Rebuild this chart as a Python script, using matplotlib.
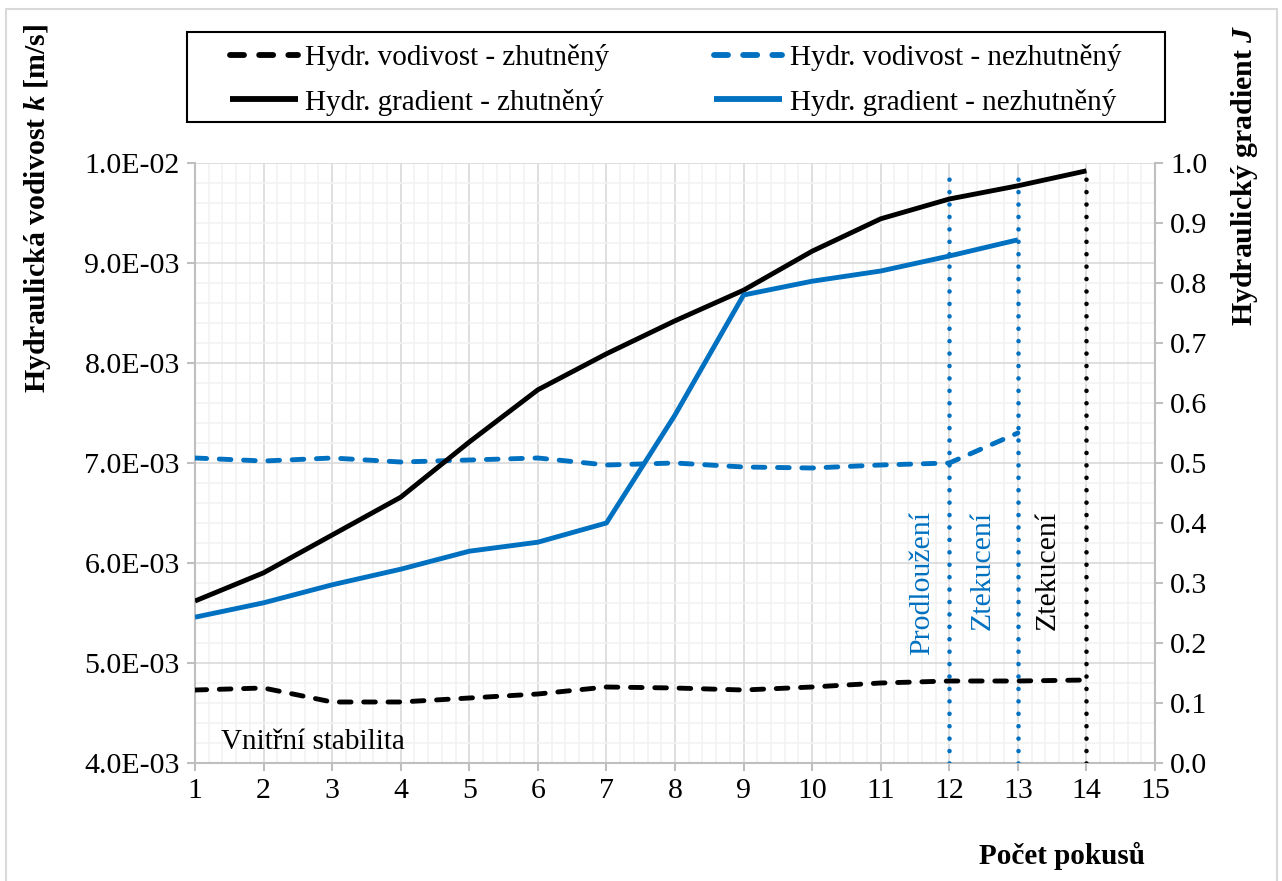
import matplotlib
matplotlib.use("Agg")
import matplotlib.pyplot as plt
from matplotlib.patches import Rectangle
from matplotlib.ticker import MultipleLocator, FuncFormatter

plt.rcParams['font.family'] = ['Liberation Serif', 'DejaVu Serif']
plt.rcParams['mathtext.fontset'] = 'custom'
plt.rcParams['mathtext.it'] = 'Liberation Serif:italic:bold'
plt.rcParams['mathtext.bf'] = 'Liberation Serif:bold'
plt.rcParams['mathtext.rm'] = 'Liberation Serif:bold'

# ---- data ----
tests = list(range(1, 15))
k_zhut = [4.73e-3, 4.75e-3, 4.61e-3, 4.61e-3, 4.65e-3, 4.69e-3, 4.76e-3,
          4.75e-3, 4.73e-3, 4.76e-3, 4.80e-3, 4.82e-3, 4.82e-3, 4.83e-3]
tests_nez = list(range(1, 14))
k_nezhut = [7.05e-3, 7.02e-3, 7.05e-3, 7.01e-3, 7.03e-3, 7.05e-3, 6.98e-3,
            7.00e-3, 6.96e-3, 6.95e-3, 6.98e-3, 7.00e-3, 7.30e-3]
J_zhut = [0.270, 0.317, 0.380, 0.443, 0.535, 0.622, 0.682,
          0.737, 0.788, 0.853, 0.907, 0.940, 0.962, 0.987]
J_nezhut = [0.243, 0.267, 0.297, 0.323, 0.353, 0.368, 0.400,
            0.580, 0.780, 0.803, 0.820, 0.845, 0.872]
vlines_x = [12, 13, 14]
vlines_labels = ["Prodloužení", "Ztekucení", "Ztekucení"]
labels = ["Hydr. vodivost - zhutněný", "Hydr. vodivost - nezhutněný",
          "Hydr. gradient - zhutněný", "Hydr. gradient - nezhutněný"]

BLUE = "#0070c0"
BLACK = "#000000"
GRID_MAJ = "#d9d9d9"
GRID_MIN = "#f2f2f2"
W, H = 1282, 881

fig = plt.figure(figsize=(12.82, 8.81), dpi=100)
fig.patches.append(Rectangle((6/W, -0.01), (1277-6)/W, 1-9/H+0.01,
                             transform=fig.transFigure, fill=False,
                             edgecolor=GRID_MAJ, lw=1.5, zorder=0))

ax = fig.add_axes([195/W, 1-763/H, (1155-195)/W, (763-163)/H])
ax2 = ax.twinx()

ax.set_xlim(1, 15)
ax.set_ylim(4.0e-3, 1.0e-2)
ax2.set_ylim(0, 1.0)

ax.xaxis.set_major_locator(MultipleLocator(1))
ax.xaxis.set_minor_locator(MultipleLocator(0.2))
ax.yaxis.set_major_locator(MultipleLocator(1e-3))
ax.yaxis.set_minor_locator(MultipleLocator(2e-4))
ax2.yaxis.set_major_locator(MultipleLocator(0.1))
ax.yaxis.set_major_formatter(FuncFormatter(lambda v, p: ("%.1E" % v)))
ax2.yaxis.set_major_formatter(FuncFormatter(lambda v, p: "%.1f" % v))

ax.grid(which='minor', color=GRID_MIN, lw=1.2, zorder=0)
ax.grid(which='major', color=GRID_MAJ, lw=1.2, zorder=0)
ax.set_axisbelow(True)

for a in (ax, ax2):
    for s in a.spines.values():
        s.set_visible(False)
ax.spines['left'].set_visible(True)
ax.spines['bottom'].set_visible(True)
ax2.spines['right'].set_visible(True)
for s in (ax.spines['left'], ax.spines['bottom'], ax2.spines['right']):
    s.set_color("#bfbfbf")
    s.set_linewidth(1.5)

TICK_FS = 21.5
ax.tick_params(axis='both', which='major', length=6, color="#bfbfbf", width=1.5,
               labelsize=TICK_FS, pad=5)
ax.tick_params(axis='both', which='minor', length=0)
ax2.tick_params(axis='y', which='major', length=6, color="#bfbfbf", width=1.5,
                labelsize=TICK_FS, pad=5)
ax2.tick_params(axis='y', which='minor', length=0)

LW = 3.5
dash = (0, (2.4, 2.6))
l1, = ax.plot(tests, k_zhut, color=BLACK, lw=LW, linestyle=dash,
              dash_capstyle='round', zorder=3)
l2, = ax.plot(tests_nez, k_nezhut, color=BLUE, lw=LW, linestyle=dash,
              dash_capstyle='round', zorder=3)
l3, = ax2.plot(tests, J_zhut, color=BLACK, lw=LW, solid_capstyle='butt', zorder=3)
l4, = ax2.plot(tests_nez, J_nezhut, color=BLUE, lw=LW, solid_capstyle='butt', zorder=3)

vcolors = [BLUE, BLUE, BLACK]
vtop = [0.983, 0.983, 0.993]
for xv, c, t in zip(vlines_x, vcolors, vtop):
    ax2.plot([xv, xv], [0, t], color=c, lw=3.3, linestyle=(0, (0.01, 2.7)),
             dash_capstyle='round', zorder=4)

text_x = [11.60, 12.48, 13.44]
for tx, lab, c in zip(text_x, vlines_labels, vcolors):
    ax2.text(tx, 0.42, lab, rotation=90, color=c, fontsize=21.5,
             ha='center', va='top', zorder=5)

ax2.text(1.38, 0.035, "Vnitřní stabilita", fontsize=21, color=BLACK,
         ha='left', va='center', zorder=5)

fig.text(38/W, 1-208/H, r"Hydraulická vodivost $\mathit{k}$ [m/s]", fontsize=21.5,
         fontweight='bold', rotation=90, ha='center', va='center')
fig.text(1245/W, 1-175/H, r"Hydraulický gradient $\mathit{J}$", fontsize=21.5,
         fontweight='bold', rotation=90, ha='center', va='center')
fig.text(1062/W, 1-856/H, "Počet pokusů", fontsize=21, fontweight='bold',
         ha='center', va='center')

# legend frame drawn manually
fig.patches.append(Rectangle((187/W, 1-122/H), (1165-187)/W, (122-32)/H,
                             transform=fig.transFigure, fill=False,
                             edgecolor='black', lw=1.5, zorder=5))
leg = fig.legend([l1, l3, l2, l4], [labels[0], labels[2], labels[1], labels[3]],
                 ncol=2, loc='upper left',
                 bbox_to_anchor=(230/W, 1-44/H),
                 fontsize=21, frameon=False,
                 handlelength=2.33, handletextpad=0.25,
                 borderaxespad=0, borderpad=0, labelspacing=0.6,
                 columnspacing=3.6)
for h in leg.get_lines():
    h.set_linewidth(4.2)

fig.savefig("out.png", dpi=100)
